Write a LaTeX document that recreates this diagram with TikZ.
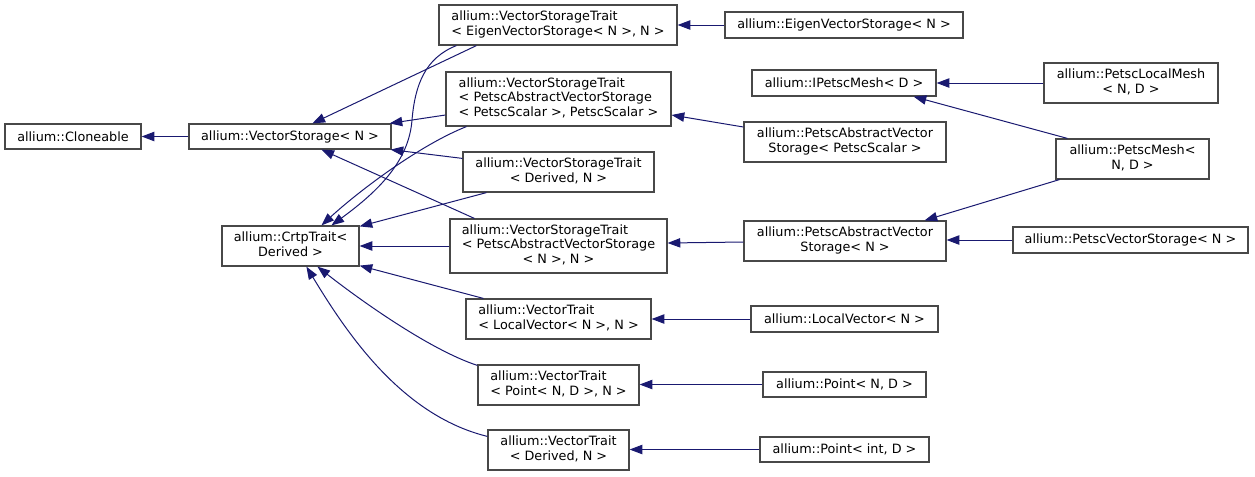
\documentclass[tikz,border=0pt]{standalone}
\usepackage{fontspec}
\setmainfont{DejaVu Sans}
\usetikzlibrary{arrows.meta,calc}
\definecolor{edgeblue}{HTML}{191970}
\definecolor{boxgray}{HTML}{484848}
\newcommand\twoL[2]{\begin{tabular}{@{}l@{}}#1\\\multicolumn{1}{@{}c@{}}{#2}\end{tabular}}
\newcommand\threeL[3]{\begin{tabular}{@{}l@{}}#1\\#2\\\multicolumn{1}{@{}c@{}}{#3}\end{tabular}}
\begin{document}
\begin{tikzpicture}[x=0.75pt,y=-0.75pt,
  cls/.style 2 args={draw=boxgray, line width=0.9pt, fill=white, rectangle, inner sep=0pt,
    minimum width=#1*0.75pt, minimum height=#2*0.75pt,
    font=\fontsize{9.6pt}{11.2pt}\selectfont, text=black},
  inh/.style={draw=edgeblue, line width=0.75pt, -{Triangle[length=9.5pt,width=7pt]}}]
\useasboundingbox (0,0) rectangle (1255,476);
\node[cls={136}{25}] (clo) at (73,136.5) {allium::Cloneable};
\node[cls={202}{25}] (vs) at (290,136.5) {allium::VectorStorage< N >};
\node[cls={137}{40}] (crtp) at (290.5,246) {\twoL{allium::CrtpTrait<}{Derived >}};
\node[cls={238}{40}] (vste) at (558,25) {\twoL{allium::VectorStorageTrait}{< EigenVectorStorage< N >, N >}};
\node[cls={238}{26}] (evs) at (844,25) {allium::EigenVectorStorage< N >};
\node[cls={225}{54}] (vstps) at (558.5,99) {\threeL{allium::VectorStorageTrait}{< PetscAbstractVectorStorage}{< PetscScalar >, PetscScalar >}};
\node[cls={184}{26}] (ipm) at (844,83) {allium::IPetscMesh< D >};
\node[cls={174}{40}] (plm) at (1131,83) {\twoL{allium::PetscLocalMesh}{< N, D >}};
\node[cls={202}{40}] (pavsps) at (845,142) {\twoL{allium::PetscAbstractVector}{Storage< PetscScalar >}};
\node[cls={153}{40}] (pm) at (1132.5,159) {\twoL{allium::PetscMesh<}{N, D >}};
\node[cls={191}{40}] (vstd) at (558.5,172) {\twoL{allium::VectorStorageTrait}{< Derived, N >}};
\node[cls={217}{54}] (vstpn) at (558.5,246) {\threeL{allium::VectorStorageTrait}{< PetscAbstractVectorStorage}{< N >, N >}};
\node[cls={202}{40}] (pavsn) at (845,241) {\twoL{allium::PetscAbstractVector}{Storage< N >}};
\node[cls={235}{26}] (pvs) at (1130.5,240) {allium::PetscVectorStorage< N >};
\node[cls={185}{40}] (vtl) at (558.5,319) {\twoL{allium::VectorTrait}{< LocalVector< N >, N >}};
\node[cls={187}{26}] (lv) at (844.5,319) {allium::LocalVector< N >};
\node[cls={161}{40}] (vtp) at (558.5,385) {\twoL{allium::VectorTrait}{< Point< N, D >, N >}};
\node[cls={163}{25}] (pnd) at (844.5,384.5) {allium::Point< N, D >};
\node[cls={141}{40}] (vtd) at (558.5,450) {\twoL{allium::VectorTrait}{< Derived, N >}};
\node[cls={169}{25}] (pid) at (844.5,449.5) {allium::Point< int, D >};

\draw[inh] (vs.west) -- (clo.east);
\draw[inh] ($(vste.south west)+(38,0)$) -- ($(vs.north west)+(124,0)$);
\draw[inh] ($(vste.south west)+(18,0)$) .. controls (425,58) and (415,85) .. (412,120) .. controls (409,160) and (380,190) .. ($(crtp.north west)+(110,0)$);
\draw[inh] ($(vstps.west)+(0,16)$) -- ($(vs.north east)+(-2,0)$);
\draw[inh] ($(vstps.south west)+(21,0)$) .. controls (420,145) and (360,190) .. ($(crtp.north west)+(100,0)$);
\draw[inh] ($(vstd.north west)+(0,7)$) -- ($(vs.south east)+(-1,0)$);
\draw[inh] ($(vstd.south west)+(24,0)$) -- ($(crtp.north east)+(0,1)$);
\draw[inh] ($(vstpn.north west)+(25,0)$) -- ($(vs.south west)+(133,0)$);
\draw[inh] (vstpn.west) -- (crtp.east);
\draw[inh] ($(vtl.north west)+(18,0)$) -- ($(crtp.south east)+(0,-1)$);
\draw[inh] ($(vtp.north west)+(0,1)$) .. controls (430,350) and (360,300) .. ($(crtp.south west)+(96,0)$);
\draw[inh] ($(vtd.north west)+(0,7)$) .. controls (400,415) and (345,330) .. ($(crtp.south west)+(85,0)$);
\draw[inh] (evs.west) -- (vste.east);
\draw[inh] ($(pavsps.west)+(0,-15)$) -- ($(vstps.east)+(0,16)$);
\draw[inh] ($(pavsn.west)+(0,1)$) -- ($(vstpn.east)+(0,-3)$);
\draw[inh] (pvs.west) -- (pvs.west -| pavsn.east);
\draw[inh] ($(pm.south west)+(4,0)$) -- ($(pavsn.north east)+(-22,0)$);
\draw[inh] ($(pm.north west)+(12,0)$) -- ($(ipm.south east)+(-23,0)$);
\draw[inh] (plm.west) -- (ipm.east);
\draw[inh] (lv.west) -- (vtl.east);
\draw[inh] (pnd.west) -- (pnd.west -| vtp.east);
\draw[inh] (pid.west) -- (pid.west -| vtd.east);
\end{tikzpicture}
\end{document}
